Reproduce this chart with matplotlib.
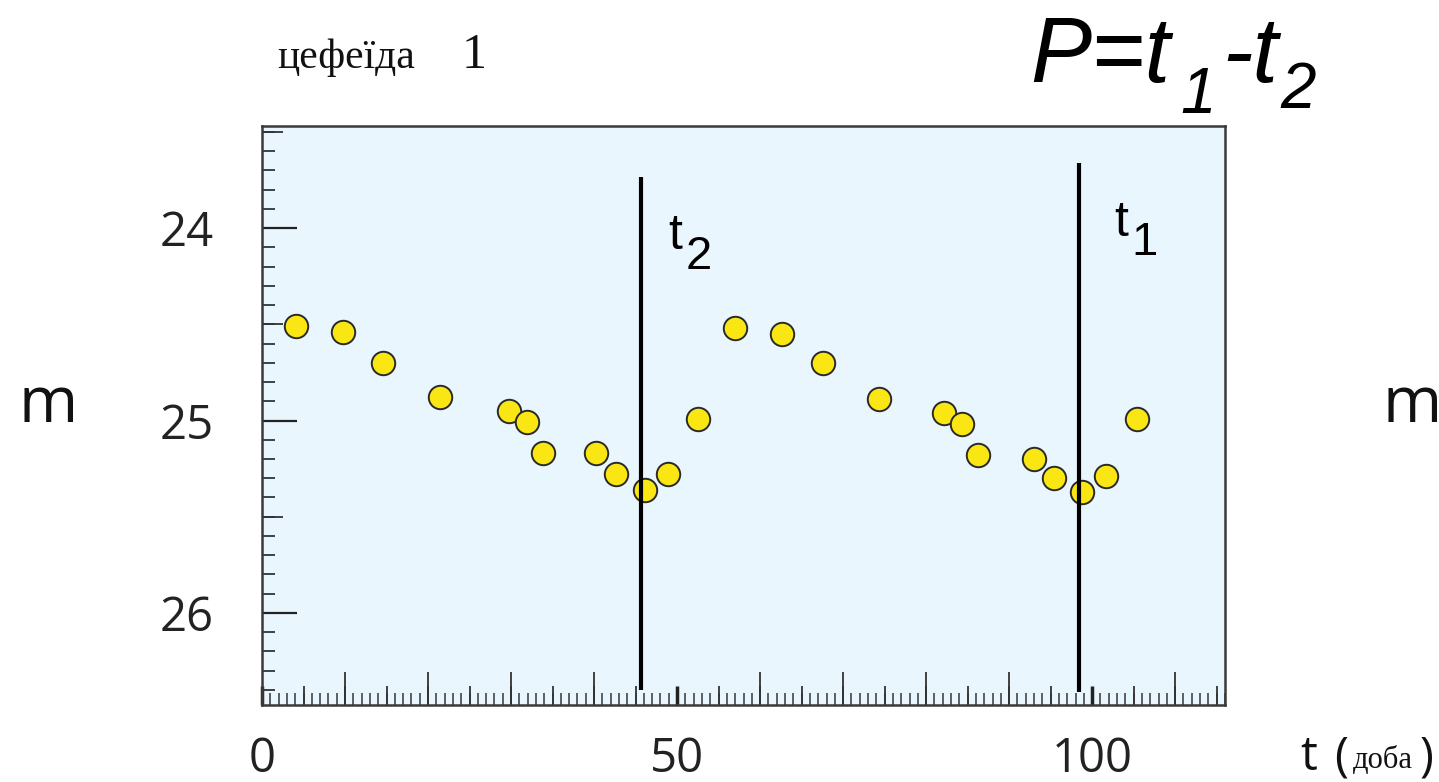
import matplotlib
matplotlib.use('Agg')
import matplotlib.pyplot as plt
from matplotlib.ticker import MultipleLocator, FixedLocator, NullFormatter

# Cepheid light curve: time (days) vs magnitude
t_days = [4.1, 9.8, 14.6, 21.4, 29.8, 31.9, 33.9, 40.2, 42.6, 46.1, 48.9, 52.5,
          57.0, 62.6, 67.6, 74.3, 82.2, 84.3, 86.3, 93.0, 95.4, 98.8, 101.7, 105.4]
mag = [24.51, 24.54, 24.70, 24.88, 24.95, 25.01, 25.17, 25.17, 25.28, 25.36, 25.28, 24.99,
       24.52, 24.55, 24.70, 24.89, 24.96, 25.02, 25.18, 25.20, 25.30, 25.37, 25.29, 24.99]

# maxima markers t2, t1
t_marks = [45.7, 98.4]
t_mark_top = [23.735, 23.66]
t_mark_bottom = [26.40, 26.41]
t_mark_names = ['2', '1']
t_label_y = [24.11, 24.04]
t_label_dx = [3.2, 4.2]

x_ticks = [0, 50, 100]
y_ticks = [24, 25, 26]

W, H = 1439, 782
fig = plt.figure(figsize=(W / 100, H / 100), dpi=100)
ax = fig.add_axes([262 / W, 1 - 705 / H, (1225 - 262) / W, (705 - 126) / H])
ax.set_facecolor('#eaf6fd')

ax.scatter(t_days, mag, s=285, color='#f9e612', edgecolor='#2a2a2a', linewidth=1.4, zorder=3)
ax.vlines(t_marks, t_mark_top, t_mark_bottom, color='black', linewidth=3, zorder=4)

# t labels beside the lines
for xm, dx, yl, name in zip(t_marks, t_label_dx, t_label_y, t_mark_names):
    ax.text(xm + dx, yl, 't', fontsize=36, family='Liberation Sans', zorder=5)
    ax.annotate(name, (xm + dx, yl), xytext=(13, -14), textcoords='offset points',
                fontsize=34, family='Liberation Sans', zorder=5)

ax.set_xlim(0, 116)
ax.set_ylim(26.478, 23.47)

# main ticks
ax.xaxis.set_major_locator(FixedLocator(x_ticks))
ax.xaxis.set_minor_locator(MultipleLocator(5))
ax.yaxis.set_major_locator(FixedLocator(y_ticks))
ax.yaxis.set_minor_locator(MultipleLocator(0.5))
ax.tick_params(axis='x', which='major', direction='in', length=14, width=2.5, pad=22,
               labelsize=34, colors='#222222')
ax.tick_params(axis='x', which='minor', direction='in', length=14, width=1.3, colors='#333333')
ax.tick_params(axis='y', which='major', direction='in', length=25, width=1.6, pad=35,
               labelsize=34, colors='#222222')
ax.tick_params(axis='y', which='minor', direction='in', length=15, width=1.3, colors='#333333')
for lbl in ax.get_xticklabels() + ax.get_yticklabels():
    lbl.set_family('Open Sans')
    lbl.set_color('#222222')

# extra tick layers (10s / 1s on x, 0.1 on y)
secx = ax.secondary_xaxis('bottom')
secx.xaxis.set_major_locator(FixedLocator([10, 20, 30, 40, 60, 70, 80, 90, 110]))
secx.xaxis.set_minor_locator(MultipleLocator(1))
secx.xaxis.set_major_formatter(NullFormatter())
secx.tick_params(axis='x', which='major', direction='in', length=24, width=1.3, colors='#333333')
secx.tick_params(axis='x', which='minor', direction='in', length=9, width=1.2, colors='#444444')
secx.spines['bottom'].set_visible(False)

secy = ax.secondary_yaxis('left')
secy.yaxis.set_major_locator(FixedLocator([]))
secy.yaxis.set_minor_locator(MultipleLocator(0.1))
secy.tick_params(axis='y', which='minor', direction='in', length=9, width=1.3, colors='#333333')
secy.spines['left'].set_visible(False)

for sp in ax.spines.values():
    sp.set_color('#3a3a3a')
    sp.set_linewidth(1.8)

# title-like labels
fig.text(277 / W, 1 - 68 / H, 'цефеїда', fontsize=30, family='Liberation Serif', color='#111111')
fig.text(462 / W, 1 - 68 / H, '1', fontsize=36, family='Liberation Serif', color='#111111')

# P = t1 - t2, built piece by piece so the subscripts sit low like the original
big = dict(fontsize=66, family='Liberation Sans', style='italic', color='black')
sub = dict(fontsize=46, family='Liberation Sans', style='italic', color='black')
fig.text(1030 / W, 1 - 82 / H, 'P=t', **big)
fig.text(1180 / W, 1 - 113 / H, '1', **sub)
fig.text(1222 / W, 1 - 82 / H, '-t', **big)
fig.text(1280 / W, 1 - 108 / H, '2', **sub)

# axis names
fig.text(18 / W, 1 - 422 / H, 'm', fontsize=46, family='Open Sans', color='#111111')
fig.text(1382 / W, 1 - 422 / H, 'm', fontsize=46, family='Open Sans', color='#111111')
fig.text(1300 / W, 1 - 770 / H, 't', fontsize=34, family='Open Sans', color='#111111')
fig.text(1334 / W, 1 - 770 / H, '(', fontsize=34, family='Open Sans', color='#111111')
fig.text(1353 / W, 1 - 768 / H, 'доба', fontsize=22, family='Liberation Serif', color='#111111')
fig.text(1420 / W, 1 - 770 / H, ')', fontsize=34, family='Open Sans', color='#111111')

plt.savefig('out.png', dpi=100)
